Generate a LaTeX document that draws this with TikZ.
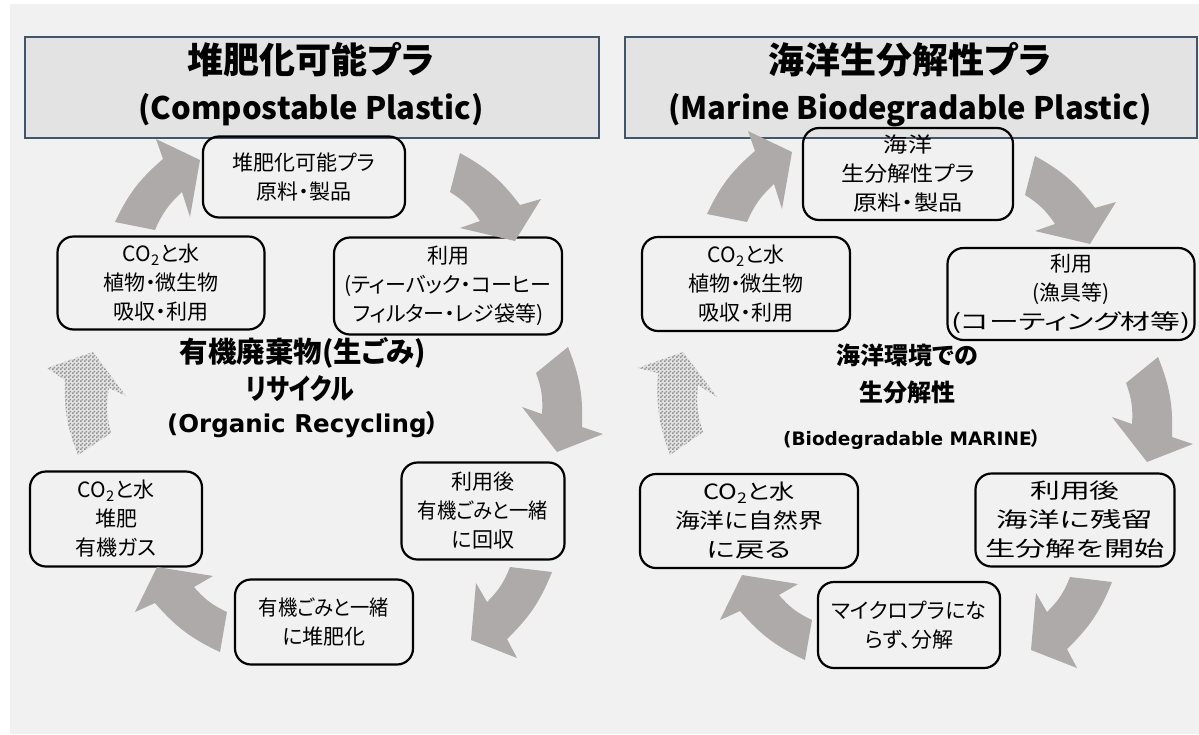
\documentclass[tikz,border=0pt]{standalone}
\usepackage{fontspec}
\setmainfont{Noto Sans CJK JP}[RawFeature=+palt]
\newfontfamily\lat{DejaVu Sans}
\usetikzlibrary{patterns}
\pgfdeclarepatternformonly{finecheck}{\pgfpointorigin}{\pgfqpoint{4pt}{4pt}}{\pgfqpoint{4pt}{4pt}}{%
  \pgfpathrectangle{\pgfpointorigin}{\pgfqpoint{2pt}{2pt}}%
  \pgfpathrectangle{\pgfqpoint{2pt}{2pt}}{\pgfqpoint{2pt}{2pt}}%
  \pgfusepath{fill}}
\definecolor{bg}{HTML}{F1F1F1}
\definecolor{hdrfill}{HTML}{E3E3E3}
\definecolor{hdrline}{HTML}{44546A}
\definecolor{arr}{HTML}{AEAAAA}
\definecolor{chk}{HTML}{949494}
\definecolor{chkbase}{HTML}{E2E2E2}
\newcommand\st[2]{{\addfontfeature{FakeStretch=#1}#2}}
\newcommand\barrow[8][]{%
  \fill[#1] (#2) to[bend left=12] (#3) -- (#4) -- (#5) -- (#6) -- (#7) to[bend right=12] (#8) -- cycle;}
\newcommand\dotarrow[7]{%
  \fill[chkbase] (#1) to[bend left=12] (#2) -- (#3) -- (#4) -- (#5) -- (#6) to[bend right=12] (#7) -- cycle;
  \fill[pattern=finecheck, pattern color=chk] (#1) to[bend left=12] (#2) -- (#3) -- (#4) -- (#5) -- (#6) to[bend right=12] (#7) -- cycle;}
\begin{document}
\begin{tikzpicture}[x=1pt,y=-1pt,
  box/.style={draw=black, line width=2.2pt, rounded corners=16pt, align=center, inner sep=0pt,
    font=\fontsize{21}{29}\selectfont},
  hdr/.style={draw=hdrline, fill=hdrfill, line width=2.5pt, inner sep=0pt},
  hjp/.style={font=\fontsize{36}{40}\selectfont\bfseries, inner sep=0pt},
  hen/.style={font=\fontsize{31}{34}\selectfont\bfseries, inner sep=0pt},
  cjpL/.style={font=\fontsize{28.5}{32}\selectfont\bfseries, inner sep=0pt},
  cenL/.style={font=\fontsize{24.5}{28}\selectfont\bfseries, inner sep=0pt},
  cjpR/.style={font=\fontsize{24}{28}\selectfont\bfseries, inner sep=0pt},
  cenR/.style={font=\fontsize{18.5}{22}\selectfont\bfseries, inner sep=0pt},
  arrowfill/.style={fill=arr}]
\useasboundingbox (0,0) rectangle (1199,734);
\fill[white] (0,0) rectangle (1199,734);
\fill[bg] (10,4) rectangle (1199,734);

% headers
\node[hdr, minimum width=574pt, minimum height=101pt] (hL) at (312,87.5) {};
\node[hdr, minimum width=572pt, minimum height=101pt] (hR) at (911,87.5) {};
\node[hjp] (hLj) at (311,60) {堆肥化可能プラ};
\node[hen] (hLe) at (311,110) {(Compostable Plastic)};
\node[hjp] (hRj) at (910,60) {海洋生分解性プラ};
\node[hen] (hRe) at (910,110) {(Marine Biodegradable Plastic)};

% left cycle nodes
\node[box, minimum width=202pt, minimum height=81pt] (L1) at (304,177) {堆肥化可能プラ\\原料・製品};
\node[box, minimum width=228pt, minimum height=97pt] (L2) at (448,286) {利用\\(ティーバック・コーヒー\\フィルター・レジ袋等)};
\node[box, minimum width=163pt, minimum height=97pt] (L3) at (483,511) {利用後\\\st{0.92}{有機ごみと一緒}\\に回収};
\node[box, minimum width=178pt, minimum height=85pt] (L4) at (324,622) {\st{0.92}{有機ごみと一緒}\\に堆肥化};
\node[box, minimum width=172pt, minimum height=95pt] (L5) at (116,519) {CO\textsubscript{2}と水\\堆肥\\有機ガス};
\node[box, minimum width=207pt, minimum height=93pt] (L6) at (161,283) {CO\textsubscript{2}と水\\植物・微生物\\吸収・利用};

% right cycle nodes
\node[box, minimum width=210pt, minimum height=92pt] (R1) at (908,174) {\st{1.15}{海洋}\\\st{1.1}{生分解性プラ}\\\st{1.15}{原料・製品}};
\node[box, minimum width=247pt, minimum height=92pt] (R2) at (1071,294) {利用\\(漁具等)\\\st{1.42}{(コーティング材等)}};
\node[box, minimum width=199pt, minimum height=93pt] (R3) at (1075,520) {\st{1.42}{利用後}\\\st{1.5}{海洋に残留}\\\st{1.44}{生分解を開始}};
\node[box, minimum width=182pt, minimum height=86pt] (R4) at (909,625) {マイクロプラにな\\らず、分解};
\node[box, minimum width=218pt, minimum height=94pt] (R5) at (749,521) {\st{1.2}{CO\textsubscript{2}と水}\\\st{1.18}{海洋に自然界}\\\st{1.4}{に戻る}};
\node[box, minimum width=208pt, minimum height=94pt] (R6) at (746,284) {CO\textsubscript{2}と水\\植物・微生物\\吸収・利用};

% centre texts
\node[cjpL] (cL1) at (303,353) {有機廃棄物(生ごみ)};
\node[cjpL] (cL2) at (300,389) {\st{0.84}{リサイクル}};
\node[cenL] (cL3) at (303,425) {{\lat (Organic Recycling}）};
\node[cjpR] (cR1) at (907,355) {海洋環境での};
\node[cjpR] (cR2) at (907,392) {生分解性};
\node[cenR] (cR3) at (912,440) {{\lat (Biodegradable MARINE}）};

% left arrows
\barrow[arrowfill]{115,222}{163,159}{156,139}{200,160}{190,217}{182,192}{155,230}
\barrow[arrowfill]{460,153}{520,205}{541,199}{515,241}{460,228}{480,221}{450,192}
\barrow[arrowfill]{568,347}{582,427}{603,434}{557,452}{522,407}{542,414}{536,373}
\barrow[arrowfill]{552,572}{507,639}{517,658}{471,640}{476,583}{487,602}{510,567}
\barrow[arrowfill]{220,652}{155,603}{135,612}{157,567}{213,576}{194,587}{227,612}
\dotarrow{78,455}{65,380}{47,368}{93,352}{126,396}{109,388}{111,433}

% right arrows
\begin{scope}[shift={(592,-8)}]
\barrow[arrowfill]{115,222}{163,159}{156,139}{200,160}{190,217}{182,192}{155,230}
\end{scope}
\begin{scope}[shift={(575,3)}]
\barrow[arrowfill]{460,153}{520,205}{541,199}{515,241}{460,228}{480,221}{450,192}
\end{scope}
\begin{scope}[shift={(590,10)}]
\barrow[arrowfill]{568,347}{582,427}{603,434}{557,452}{522,407}{542,414}{536,373}
\end{scope}
\begin{scope}[shift={(560,10)}]
\barrow[arrowfill]{552,572}{507,639}{517,658}{471,640}{476,583}{487,602}{510,567}
\end{scope}
\begin{scope}[shift={(585,8)}]
\barrow[arrowfill]{220,652}{155,603}{135,612}{157,567}{213,576}{194,587}{227,612}
\end{scope}
\dotarrow{670,455}{658,373}{638,368}{683,352}{717,397}{698,385}{703,432}
\end{tikzpicture}
\end{document}
